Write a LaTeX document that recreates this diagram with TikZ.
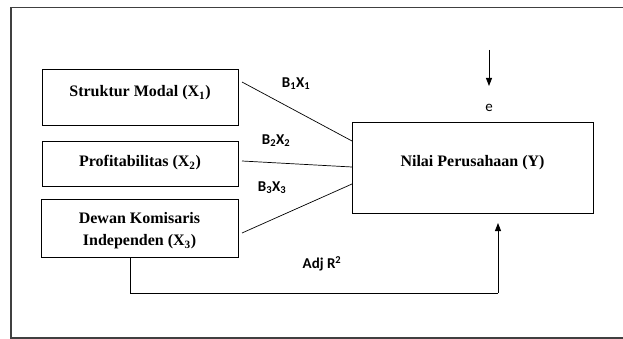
\documentclass[tikz,border=0pt]{standalone}
\usepackage{fontspec}
\setmainfont{Liberation Serif}
\newfontfamily\lblfont{Carlito}
\usetikzlibrary{arrows.meta}
\begin{document}
\begin{tikzpicture}[x=1pt,y=-1pt,
  varbox/.style={draw, line width=1pt, inner sep=0pt},
  vartext/.style={font=\fontsize{16}{22}\selectfont\bfseries, align=center, inner sep=0pt},
  coef/.style={font=\lblfont\bfseries\fontsize{15}{17}\selectfont, inner sep=0pt},
  link/.style={line width=0.7pt},
  arr/.style={line width=0.9pt, -{Triangle[length=8pt,width=6pt]}}]
\useasboundingbox (0,0) rectangle (623,339);
\draw[line width=1.2pt, black!75] (623,7.5) -- (11,7.5) -- (11,338) -- (623,338);
\node[varbox, minimum width=196, minimum height=56] (x1) at (140,98) {};
\node[vartext] (t1) at (140,93) {Struktur Modal (X\textsubscript{1})};
\node[varbox, minimum width=196, minimum height=44] (x2) at (140,164) {};
\node[vartext] (t2) at (140,163) {Profitabilitas (X\textsubscript{2})};
\node[varbox, minimum width=197, minimum height=58] (x3) at (139.5,228) {};
\node[vartext] (t3) at (139.5,231) {Dewan Komisaris\\Independen (X\textsubscript{3})};
\node[varbox, minimum width=241, minimum height=90] (y) at (472.5,168) {};
\node[vartext] (ty) at (472.5,163) {Nilai Perusahaan (Y)};
\coordinate (a1s) at (242,82); \coordinate (a1e) at (352,141);
\coordinate (a2s) at (242,161); \coordinate (a2e) at (352,167);
\coordinate (a3s) at (242,233); \coordinate (a3e) at (352,184);
\draw[link] (a1s) -- (a1e);
\draw[link] (a2s) -- (a2e);
\draw[link] (a3s) -- (a3e);
\node[coef] (b1) at (296,84) {B\textsubscript{1}X\textsubscript{1}};
\node[coef] (b2) at (276,141) {B\textsubscript{2}X\textsubscript{2}};
\node[coef] (b3) at (272,188) {B\textsubscript{3}X\textsubscript{3}};
\coordinate (etop) at (489,50);
\coordinate (etip) at (489,86);
\draw[arr] (etop) -- (etip);
\node[coef, font=\lblfont\fontsize{15}{17}\selectfont] (e) at (489,108) {e};
\coordinate (c1) at (130,257);
\coordinate (c2) at (130,293);
\coordinate (c3) at (498,293);
\coordinate (c4) at (498,223);
\draw[line width=0.9pt] (c1) -- (c2) -- (c3);
\draw[arr] (c3) -- (c4);
\node[coef] (r) at (322,264) {Adj R\textsuperscript{2}};
\end{tikzpicture}
\end{document}
